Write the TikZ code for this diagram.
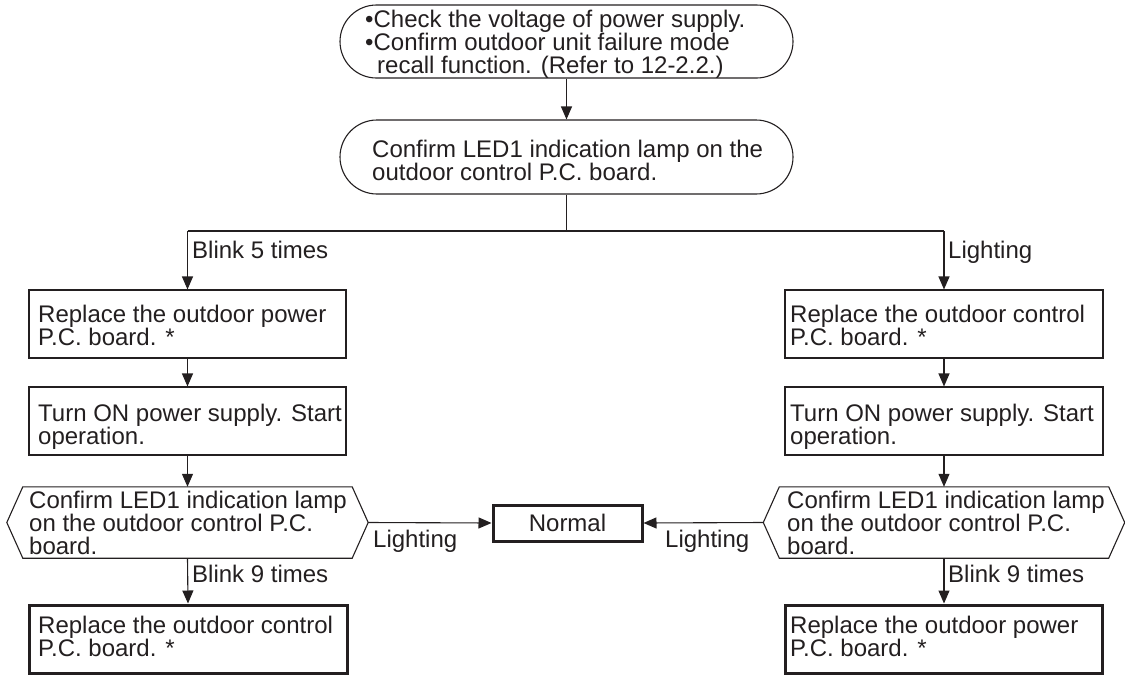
\documentclass[tikz,border=0pt]{standalone}
\usepackage{fontspec}
\setmainfont{Liberation Sans}
\usetikzlibrary{shapes.misc,arrows.meta,calc}
\definecolor{ink}{RGB}{35,31,32}
\begin{document}
\begin{tikzpicture}[x=1pt,y=-1pt,
  rbox/.style={rounded rectangle, draw=ink, line width=1.1pt, inner sep=0pt},
  pbox/.style={rectangle, draw=ink, line width=1.1pt, inner sep=0pt},
  endbox/.style={rectangle, draw=ink, line width=3pt, inner sep=0pt},
  hexcore/.style={rectangle, draw=none, inner sep=0pt, minimum width=329pt, minimum height=71pt},
  hexline/.style={draw=ink, line width=1.1pt, line join=miter},
  txt/.style={anchor=north west, inner sep=0pt, align=left, text=ink,
              font=\fontsize{24}{23}\selectfont},
  lbl/.style={anchor=base west, inner sep=0pt, text=ink,
              font=\fontsize{24}{23}\selectfont},
  conn/.style={draw=ink, line width=1.1pt},
  arr/.style={draw=ink, line width=1.1pt, -{Triangle[length=13pt,width=11pt]}}
]
\useasboundingbox (0,0) rectangle (1125,675);

% top stadium boxes
\node[rbox, minimum width=453pt, minimum height=73pt] (start) at (566.5,41.5) {};
\node[txt] (startT) at (365,9) {\rule{0pt}{18pt}•Check the voltage of power supply.\\•Confirm outdoor unit failure mode\\\hspace*{12pt}recall function. (Refer to 12-2.2.)};

\node[rbox, minimum width=453pt, minimum height=74pt] (led) at (566.5,157) {};
\node[txt] (ledT) at (372,139) {\rule{0pt}{18pt}Confirm LED1 indication lamp on the\\outdoor control P.C. board.};

% left column
\node[pbox, minimum width=317pt, minimum height=68pt] (repL) at (187.5,324) {};
\node[txt] (repLT) at (38,304) {\rule{0pt}{18pt}Replace the outdoor power\\P.C. board. *};

\node[pbox, minimum width=317pt, minimum height=68pt] (turnL) at (187.5,421) {};
\node[txt] (turnLT) at (38,403) {\rule{0pt}{18pt}Turn ON power supply. Start\\operation.};

\node[hexcore] (hexL) at (187.5,522.5) {};
\coordinate (hexLw) at ($(hexL.west)+(-16,0)$);
\coordinate (hexLe) at ($(hexL.east)+(16,0)$);
\draw[hexline] (hexL.north west) -- (hexL.north east) -- (hexLe) -- (hexL.south east)
  -- (hexL.south west) -- (hexLw) -- cycle;
\node[txt] (hexLT) at (29,490) {\rule{0pt}{18pt}Confirm LED1 indication lamp\\on the outdoor control P.C.\\board.};

\node[endbox, minimum width=318pt, minimum height=68pt] (finL) at (188,639) {};
\node[txt] (finLT) at (38,615) {\rule{0pt}{18pt}Replace the outdoor control\\P.C. board. *};

% right column
\node[pbox, minimum width=318pt, minimum height=68pt] (repR) at (944,324) {};
\node[txt] (repRT) at (790,304) {\rule{0pt}{18pt}Replace the outdoor control\\P.C. board. *};

\node[pbox, minimum width=318pt, minimum height=68pt] (turnR) at (944,421) {};
\node[txt] (turnRT) at (790,403) {\rule{0pt}{18pt}Turn ON power supply. Start\\operation.};

\node[hexcore] (hexR) at (944,522.5) {};
\coordinate (hexRw) at ($(hexR.west)+(-16,0)$);
\coordinate (hexRe) at ($(hexR.east)+(16,0)$);
\draw[hexline] (hexR.north west) -- (hexR.north east) -- (hexRe) -- (hexR.south east)
  -- (hexR.south west) -- (hexRw) -- cycle;
\node[txt] (hexRT) at (787,490) {\rule{0pt}{18pt}Confirm LED1 indication lamp\\on the outdoor control P.C.\\board.};

\node[endbox, minimum width=317pt, minimum height=68pt] (finR) at (944,639) {};
\node[txt] (finRT) at (790,615) {\rule{0pt}{18pt}Replace the outdoor power\\P.C. board. *};

% normal
\node[endbox, minimum width=149pt, minimum height=36pt, text=ink,
      font=\fontsize{24}{23}\selectfont] (normal) at (567.5,523) {Normal};

% connectors
\coordinate (split) at (566.5,231);
\coordinate (bl) at (187.5,231);
\coordinate (br) at (944,231);
\draw[arr] (start.south) -- (led.north);
\draw[conn] (led.south) -- (split);
\draw[conn] (bl) -- (br);
\draw[arr] (bl) -- (repL.north);
\draw[arr] (br) -- (repR.north);
\draw[arr] (repL.south) -- (turnL.north);
\draw[arr] (turnL.south) -- (hexL.north);
\draw[arr] (hexL.south) -- (finL.north);
\draw[arr] (repR.south) -- (turnR.north);
\draw[arr] (turnR.south) -- (hexR.north);
\draw[arr] (hexR.south) -- (finR.north);
\draw[arr] (hexLe) -- (normal.west);
\draw[arr] (hexRw) -- (normal.east);

% labels
\node[lbl] (lb5) at (192,258) {Blink 5 times};
\node[lbl] (lbLt) at (948,258) {Lighting};
\node[lbl] (lbL9) at (192,582) {Blink 9 times};
\node[lbl] (lbR9) at (948,582) {Blink 9 times};
\node[lbl] (lbLn) at (373,547) {Lighting};
\node[lbl] (lbRn) at (665,547) {Lighting};
\end{tikzpicture}
\end{document}
